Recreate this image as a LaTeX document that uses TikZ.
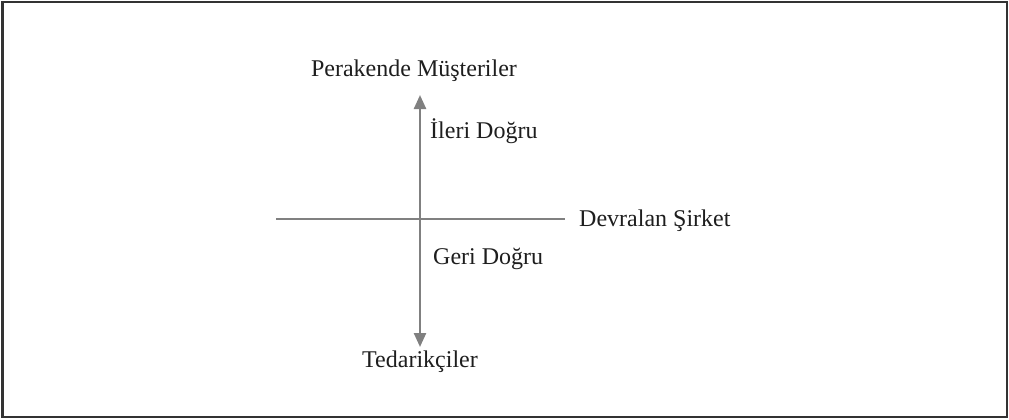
\documentclass[tikz,border=0pt]{standalone}
\usepackage{fontspec}
\setmainfont{Liberation Serif}
\usetikzlibrary{arrows.meta}
\definecolor{txt}{HTML}{1E1E1E}
\definecolor{axis}{HTML}{808080}
\definecolor{frame}{HTML}{333333}
\begin{document}
\begin{tikzpicture}[x=1bp,y=-1bp,
  lbl/.style={text=txt,inner sep=0pt,anchor=base,font=\fontsize{24bp}{28bp}\selectfont},
  axisline/.style={draw=axis,line width=2.4bp},
  arr/.style={axisline,{Triangle[length=14bp,width=12bp]}-{Triangle[length=14bp,width=12bp]}}]
\useasboundingbox (0,0) rectangle (1009,419);
\draw[frame,line width=2bp] (2.5,1.5) rectangle (1006.5,417);
\coordinate (top) at (420,95);
\coordinate (bot) at (420,347);
\coordinate (hl) at (276,219);
\coordinate (hr) at (565,219);
\draw[axisline] (hl) -- (hr);
\draw[arr] (bot) -- (top);
\node[lbl] (musteri) at (414,76) {Perakende Müşteriler};
\node[lbl,anchor=base west] (ileri) at (430,138) {İleri Doğru};
\node[lbl,anchor=base west] (devralan) at (579,226) {Devralan Şirket};
\node[lbl,anchor=base west] (geri) at (433,264) {Geri Doğru};
\node[lbl] (tedarik) at (420,367) {Tedarikçiler};
\end{tikzpicture}
\end{document}
